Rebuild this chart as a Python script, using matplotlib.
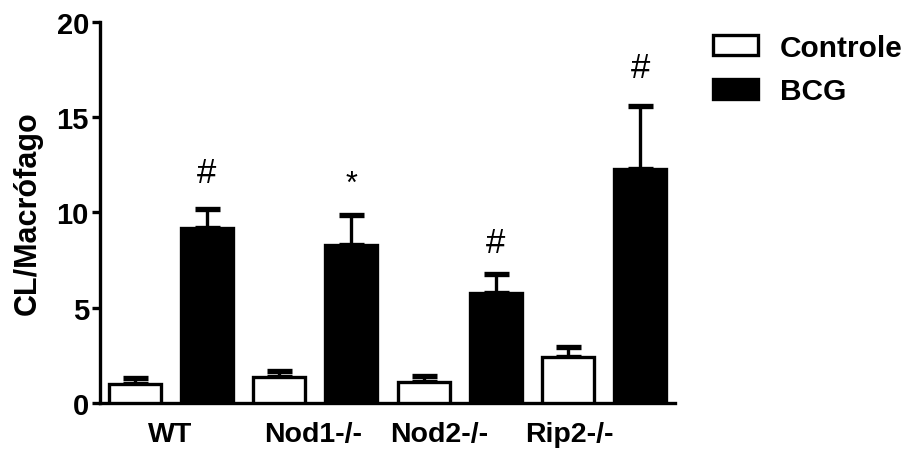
import numpy as np
import matplotlib.pyplot as plt
from matplotlib.patches import Patch

# dados
grupos = ['WT', 'Nod1-/-', 'Nod2-/-', 'Rip2-/-']
controle = [1.0, 1.35, 1.1, 2.4]
controle_err = [0.3, 0.35, 0.3, 0.55]
bcg = [9.2, 8.3, 5.75, 12.3]
bcg_err = [0.95, 1.55, 1.0, 3.3]
marcas = ['#', '*', '#', '#']
marcas_y = [12.1, 11.5, 8.4, 17.6]

plt.rcParams['font.family'] = ['Liberation Sans', 'DejaVu Sans']

fig = plt.figure(figsize=(9.13, 4.52), dpi=100)
ax = fig.add_axes([100 / 913, 1 - 404 / 452, (675 - 100) / 913, (404 - 22.7) / 452])

lw = 2.4
x_ctrl = np.arange(len(grupos)) * 2
x_bcg = x_ctrl + 1
w = 0.72

ax.bar(x_ctrl, controle, w, color='white', edgecolor='black', linewidth=lw, zorder=3)
ax.bar(x_bcg, bcg, w, color='black', edgecolor='black', linewidth=lw, zorder=3)
ax.errorbar(x_ctrl, controle, yerr=[np.zeros(4), controle_err], fmt='none',
            ecolor='black', elinewidth=lw, capsize=9, capthick=lw * 1.6, zorder=2)
ax.errorbar(x_bcg, bcg, yerr=[np.zeros(4), bcg_err], fmt='none',
            ecolor='black', elinewidth=lw, capsize=9, capthick=lw * 1.6, zorder=2)

for xi, m, yi in zip(x_bcg, marcas, marcas_y):
    ax.text(xi, yi, m, ha='center', va='center', fontsize=25 if m == '#' else 22)

ax.set_xlim(-0.48, 7.48)
ax.set_ylim(0, 20)
ax.set_yticks([0, 5, 10, 15, 20])
ax.set_xticks([0.49, 2.47, 4.21, 6.02])
ax.set_xticklabels(grupos, fontsize=20.5, fontweight='bold')
for t in ax.get_yticklabels():
    t.set_fontsize(21)
    t.set_fontweight('bold')
ax.tick_params(axis='x', length=0, pad=13)
ax.tick_params(axis='y', length=6, width=lw, pad=2)
ax.set_ylabel('CL/Macrófago', fontsize=22, fontweight='bold', labelpad=10)

for s in ['top', 'right']:
    ax.spines[s].set_visible(False)
for s in ['left', 'bottom']:
    ax.spines[s].set_linewidth(lw)

handles = [Patch(facecolor='white', edgecolor='black', linewidth=lw, label='Controle'),
           Patch(facecolor='black', edgecolor='black', linewidth=lw, label='BCG')]
leg = ax.legend(handles=handles, loc='upper left', bbox_to_anchor=(1.066, 0.969),
                frameon=False, handlelength=1.5, handleheight=0.68, handletextpad=0.75,
                labelspacing=0.53, borderpad=0, borderaxespad=0,
                prop={'size': 21.5, 'weight': 'bold'})

fig.savefig('out.png', dpi=100)
